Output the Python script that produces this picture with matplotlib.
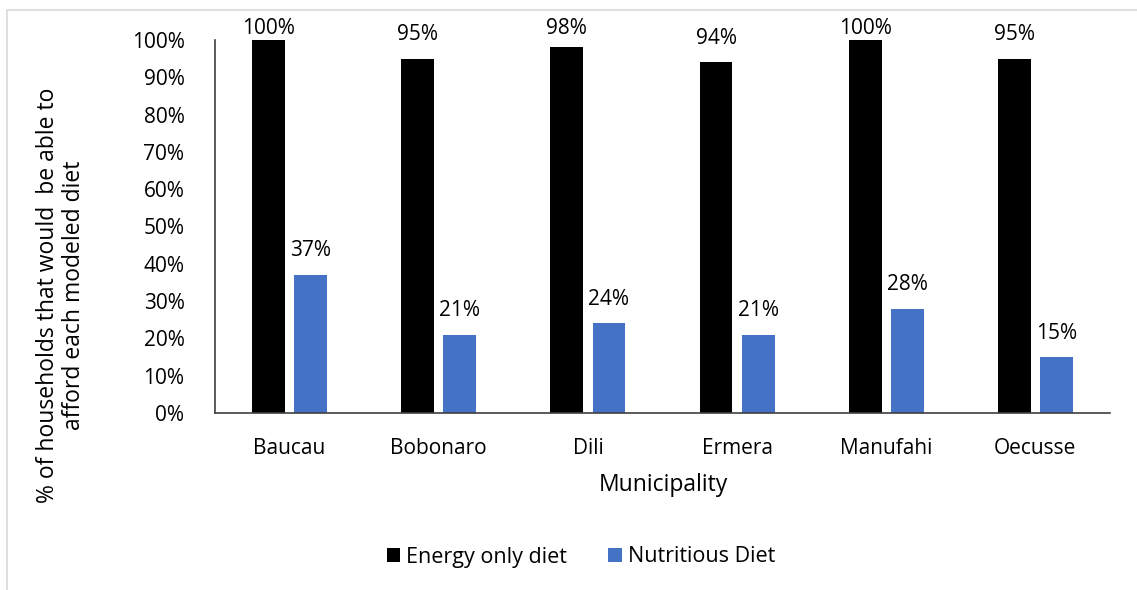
import matplotlib
matplotlib.use("Agg")
import matplotlib.pyplot as plt
from matplotlib.patches import Rectangle, Patch
import numpy as np

plt.rcParams['font.family'] = ['Open Sans', 'DejaVu Sans']

municipalities = ["Baucau", "Bobonaro", "Dili", "Ermera", "Manufahi", "Oecusse"]
energy_only = [100, 95, 98, 94, 100, 95]
nutritious = [37, 21, 24, 21, 28, 15]
series_names = ["Energy only diet", "Nutritious Diet"]
yticks = list(range(0, 101, 10))

W, H = 1137, 590
fig = plt.figure(figsize=(W / 100, H / 100), dpi=100)

# light outer frame of the chart area
fig.patches.append(Rectangle((7 / W, -0.1), 1.2, 1 - 10 / H + 0.1, transform=fig.transFigure,
                             fill=False, edgecolor="#d9d9d9", linewidth=1.2))

ax = fig.add_axes([215 / W, 1 - 413 / H, (1110 - 215) / W, (413 - 40) / H])

x = np.arange(len(municipalities))
w = 0.22
off = 0.141
c_energy = "#000000"
c_nutr = "#4472C4"
ax.bar(x - off, energy_only, width=w, color=c_energy)
ax.bar(x + off, nutritious, width=w, color=c_nutr)

ax.set_xlim(-0.5, len(municipalities) - 0.5)
ax.set_ylim(0, 100)

fs = 15
ppu = (413 - 40) / 100.0  # pixels per percent
top_limit = (413 - 29) / ppu
for xi, v in zip(x - off, energy_only):
    ax.text(xi, min(v + 24 / ppu, top_limit), f"{v}%", ha="center", va="center",
            fontsize=fs, color="#000000", clip_on=False)
for xi, v in zip(x + off, nutritious):
    ax.text(xi, min(v + 24 / ppu, top_limit), f"{v}%", ha="center", va="center",
            fontsize=fs, color="#000000", clip_on=False)

ax.set_yticks(yticks)
ax.set_yticklabels([f"{t}%" for t in yticks], fontsize=fs)
ax.set_xticks(x)
ax.set_xticklabels(municipalities, fontsize=fs)
ax.tick_params(axis="y", length=0, pad=22)
ax.tick_params(axis="x", length=0, pad=18)

for s in ["top", "right"]:
    ax.spines[s].set_visible(False)
ax.spines["left"].set_color("#404040")
ax.spines["bottom"].set_color("#404040")
ax.spines["left"].set_linewidth(1.2)
ax.spines["bottom"].set_linewidth(1.2)

fig.text(663 / W, 1 - 485 / H, "Municipality", ha="center", va="center", fontsize=16.5)
fig.text(61 / W, 1 - 295 / H, "% of households that would  be able to\nafford each modeled diet",
         ha="center", va="center", rotation=90, fontsize=16.5, multialignment="center",
         linespacing=1.1)

handles = [Patch(facecolor=c_energy), Patch(facecolor=c_nutr)]
fig.legend(handles, series_names, loc="center", bbox_to_anchor=(581 / W, 1 - 557 / H),
           ncol=2, frameon=False, fontsize=15.5, handlelength=0.62, handleheight=0.62,
           handletextpad=0.3, columnspacing=1.9)

fig.savefig("out.png", dpi=100)
